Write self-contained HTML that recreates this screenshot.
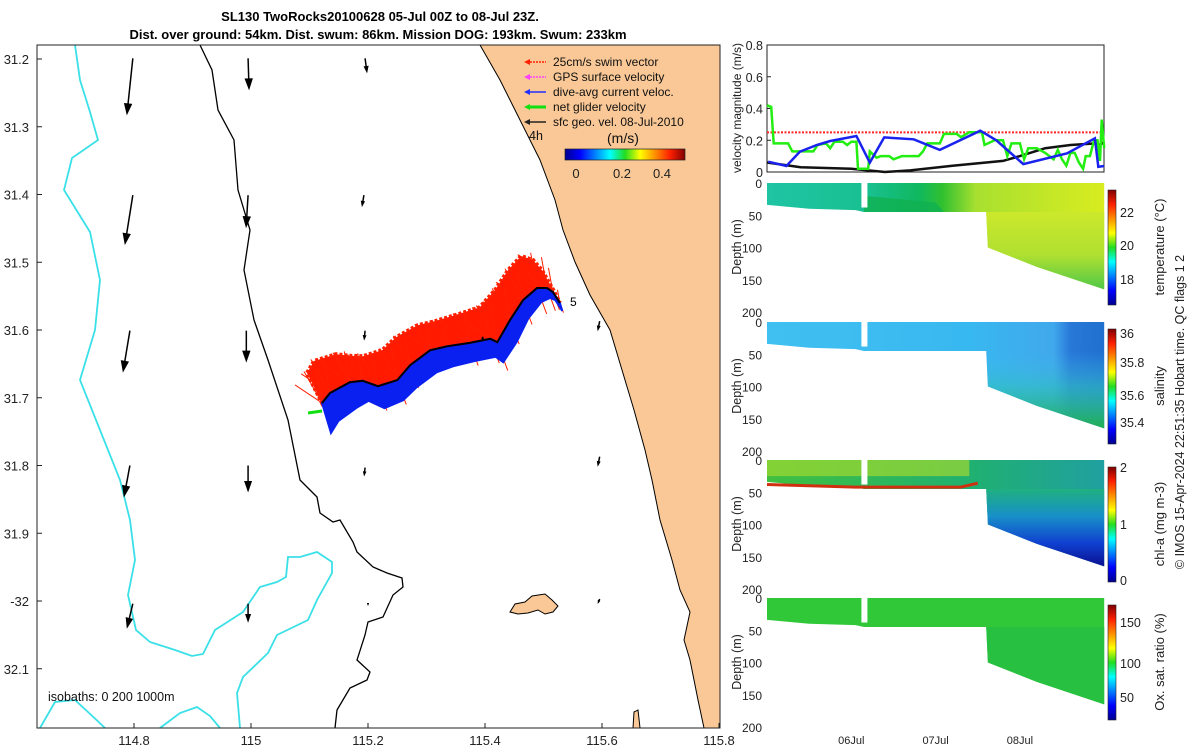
<!DOCTYPE html>
<html><head><meta charset="utf-8"><style>
body{margin:0;background:#fff;}
svg{display:block;font-family:"Liberation Sans",sans-serif;}
</style></head><body>
<svg id="c" width="1200" height="750" viewBox="0 0 1200 750">
<defs>
<linearGradient id="jet" x1="0" y1="0" x2="1" y2="0">
<stop offset="0" stop-color="#00008f"/><stop offset="0.125" stop-color="#0000ff"/><stop offset="0.375" stop-color="#00ffff"/><stop offset="0.5" stop-color="#22dd22"/><stop offset="0.625" stop-color="#ffff00"/><stop offset="0.875" stop-color="#ff2000"/><stop offset="1" stop-color="#800000"/>
</linearGradient>
<linearGradient id="jetv" x1="0" y1="1" x2="0" y2="0">
<stop offset="0" stop-color="#00008f"/><stop offset="0.125" stop-color="#0000ff"/><stop offset="0.375" stop-color="#00ffff"/><stop offset="0.5" stop-color="#22dd22"/><stop offset="0.625" stop-color="#ffff00"/><stop offset="0.875" stop-color="#ff2000"/><stop offset="1" stop-color="#800000"/>
</linearGradient>
<linearGradient id="tempH" x1="0" y1="0" x2="1" y2="0">
<stop offset="0" stop-color="#1fc4a4"/><stop offset="0.3" stop-color="#18c090"/><stop offset="0.45" stop-color="#10b860"/><stop offset="0.52" stop-color="#30c030"/><stop offset="0.62" stop-color="#a8e030"/><stop offset="1" stop-color="#d8ec20"/>
</linearGradient>
<linearGradient id="tempDeep" x1="0" y1="0" x2="0" y2="1">
<stop offset="0" stop-color="#cce82c"/><stop offset="0.55" stop-color="#b0e030"/><stop offset="1" stop-color="#50c848"/>
</linearGradient>
<linearGradient id="salH" x1="0" y1="0" x2="1" y2="0">
<stop offset="0" stop-color="#40c0f0"/><stop offset="0.6" stop-color="#38b8f0"/><stop offset="0.85" stop-color="#40a8ec"/><stop offset="0.9" stop-color="#2878d8"/><stop offset="1" stop-color="#2070d0"/>
</linearGradient>
<linearGradient id="salDeep" x1="0" y1="0" x2="0" y2="1">
<stop offset="0" stop-color="#40b8f0" stop-opacity="0"/><stop offset="0.45" stop-color="#30c0c0" stop-opacity="0.6"/><stop offset="1" stop-color="#20b050"/>
</linearGradient>
<linearGradient id="chlH" x1="0" y1="0" x2="1" y2="0">
<stop offset="0" stop-color="#40c040"/><stop offset="0.6" stop-color="#20b070"/><stop offset="1" stop-color="#20a0a0"/>
</linearGradient>
<linearGradient id="chlDeep" x1="0" y1="0" x2="0" y2="1">
<stop offset="0" stop-color="#20b080"/><stop offset="0.35" stop-color="#1890c8"/><stop offset="0.7" stop-color="#1040d0"/><stop offset="1" stop-color="#0a1090"/>
</linearGradient>
</defs>
<g id="map"></g>
<g id="right"></g>
</svg>
<script>
const NS='http://www.w3.org/2000/svg';
function mk(tag,attrs,parent,text){const e=document.createElementNS(NS,tag);for(const k in attrs)e.setAttribute(k,attrs[k]);if(text!==undefined)e.textContent=text;(parent||svg).appendChild(e);return e;}
const svg=document.getElementById('c');
const mapG=document.getElementById('map');
const rG=document.getElementById('right');

// ---------- data ----------
const lonTicks=[114.8,115,115.2,115.4,115.6,115.8];
const latTicks=[31.2,31.3,31.4,31.5,31.6,31.7,31.8,31.9,32.0,32.1];
const latTickLabels=['31.2','31.3','31.4','31.5','31.6','31.7','31.8','31.9','-32','32.1'];
const trackLon=[115.1214,115.135,115.169,115.191,115.217,115.250,115.272,115.306,115.335,115.374,115.409,115.421,115.443,115.465,115.489,115.506,115.516,115.528];
const trackLat=[31.7077,31.693,31.677,31.675,31.683,31.674,31.652,31.630,31.624,31.619,31.613,31.618,31.585,31.556,31.538,31.538,31.544,31.560];
const redReach=[30,32,28,25,30,30,28,25,25,28,30,35,30,30,32,28,22,12];
const blueReach=[30,28,25,20,22,20,22,22,20,18,18,20,22,18,14,10,8,8];
const arrLon=[114.798,114.798,114.793,114.793,114.798,114.995,114.995,114.992,114.995,114.995,115.195,115.193,115.195,115.195,115.2,115.396,115.596,115.596,115.596];
const arrLat=[31.199,31.401,31.601,31.800,32.004,31.199,31.401,31.601,31.800,32.004,31.199,31.401,31.601,31.803,32.003,31.61,31.587,31.787,31.997];
const arrU=[-0.06,-0.08,-0.07,-0.06,-0.06,0.01,-0.02,0,0,0,0.02,-0.02,-0.01,-0.01,0,0,-0.02,-0.02,-0.02];
const arrV=[-0.57,-0.5,-0.42,-0.32,-0.25,-0.32,-0.33,-0.32,-0.27,-0.19,-0.15,-0.12,-0.1,-0.09,-0.03,-0.05,-0.1,-0.1,-0.05];

const days=[0,1,2,3];
const dayLabels=['','06Jul','07Jul','08Jul'];
const velTicks=[0,0.2,0.4,0.6,0.8];
const greenT=[0,0.05,0.08,0.25,0.3,0.55,0.6,0.7,0.75,0.8,0.9,0.95,1.0,1.06,1.08,1.2,1.22,1.3,1.35,1.45,1.5,1.6,1.8,1.85,1.9,2.05,2.1,2.25,2.3,2.4,2.55,2.58,2.7,2.8,2.85,2.9,3.0,3.05,3.1,3.2,3.3,3.4,3.45,3.5,3.55,3.6,3.65,3.7,3.75,3.78,3.83,3.88,3.92,3.95,3.97,4.0];
const greenV=[0.42,0.41,0.18,0.18,0.13,0.13,0.17,0.18,0.15,0.19,0.19,0.17,0.19,0.19,0.02,0.02,0.13,0.09,0.1,0.1,0.08,0.1,0.1,0.13,0.18,0.18,0.24,0.24,0.22,0.25,0.25,0.17,0.2,0.2,0.1,0.18,0.18,0.08,0.15,0.15,0.12,0.08,0.14,0.08,0.04,0.12,0.12,0.06,0.02,0.1,0.1,0.2,0.2,0.07,0.33,0.15];
const blueT=[0.016,0.23,0.39,0.59,0.75,1.06,1.22,1.39,1.74,2.05,2.53,2.72,3.04,3.56,3.89,3.93,4.0];
const blueV=[0.065,0.038,0.128,0.17,0.195,0.227,0.059,0.218,0.206,0.139,0.26,0.2,0.05,0.118,0.212,0.033,0.038];
const blackT=[0,0.4,1.0,1.4,1.7,2.2,2.8,3.0,3.3,3.6,3.9,3.95,4.0];
const blackV=[0.06,0.03,0.02,0.0,0.01,0.04,0.07,0.1,0.15,0.17,0.18,0.17,0.19];
const swimV=[0.25];

const botT=[0,0.5,1.05,1.15,2.6,2.62,3.2,4.0];
const botD=[34,40,42,45,45,100,130,165];
const depthTicks=[0,50,100,150,200];

// ---------- map ----------
const MX0=37,MX1=720,MY0=45,MY1=728;
const lx=lon=>134+(lon-114.8)*585;
const ly=lat=>59+(lat-31.2)*677.5;
let e;
e=mk('rect',{x:MX0,y:MY0,width:MX1-MX0,height:MY1-MY0,fill:'#fff'},mapG);

e=mk('path',{d:'M480,45 L500,80 L520,120 L540,160 L555,200 L563,230 L575,262 L590,295 L610,330 L622,370 L634,410 L645,450 L652,480 L660,520 L672,560 L680,590 L690,612 L684,640 L690,660 L698,700 L704,728 L720,728 L720,45 Z',fill:'#f9c896',stroke:'#000','stroke-width':1},mapG);

e=mk('path',{d:'M510,612 L515,604 L525,602 L532,596 L545,594 L552,600 L558,606 L553,612 L545,614 L538,610 L528,613 L518,614 Z',fill:'#f9c896',stroke:'#000','stroke-width':1},mapG);

e=mk('path',{d:'M633,728 L634,712 L638,710 L640,728 Z',fill:'#f9c896',stroke:'#000','stroke-width':1},mapG);

e=mk('path',{d:'M200,45 L212,70 L218,110 L234,140 L238,190 L250,230 L244,270 L254,320 L268,360 L288,420 L300,480 L317,497 L320,513 L333,522 L340,520 L353,542 L357,552 L373,567 L387,573 L402,578 L403,587 L393,595 L383,617 L368,622 L365,635 L357,660 L370,672 L367,680 L350,688 L337,710 L335,728',fill:'none',stroke:'#000','stroke-width':1.3},mapG);

e=mk('path',{d:'M75,45 L80,80 L90,112 L98,140 L72,158 L64,190 L90,232 L100,280 L95,330 L80,380 L100,430 L120,480 L130,520 L135,560 L128,595 L136,630 L150,642 L175,650 L192,656 L203,654 L215,630 L243,612 L260,587 L277,582 L286,577 L288,557 L300,557 L317,552 L332,562 L332,573 L317,600 L308,620 L277,635 L268,653 L243,677 L237,693 L240,728',fill:'none',stroke:'#3ae0e8','stroke-width':1.8},mapG);

e=mk('path',{d:'M40,728 L55,702 L75,700 L88,712 L105,728 M160,728 L180,713 L197,707 L210,716 L220,728',fill:'none',stroke:'#3ae0e8','stroke-width':1.8},mapG);

// track bands
let upper=[],lower=[],line=[];
for(let i=0;i<trackLon.length;i++){const x=lx(trackLon[i]),y=ly(trackLat[i]);line.push([x,y]);upper.push([x-redReach[i]*0.5,y-redReach[i]]);lower.push([x+blueReach[i]*0.3,y+blueReach[i]]);}
const P=a=>a.map(p=>p[0].toFixed(1)+','+p[1].toFixed(1)).join(' ');
e=mk('polygon',{points:P(line)+' '+P(upper.slice().reverse()),fill:'#ff1a00',stroke:'#ff2000','stroke-width':4,'stroke-dasharray':'3 2'},mapG);

for(let i=0;i<upper.length;i++){
 const x=line[i][0],y=line[i][1],r=redReach[i];
 [[-0.6,-1.05],[-0.2,-1.1],[-0.9,-0.6],[0.3,0.9]].forEach((d,k)=>{
  e=mk('line',{x1:x,y1:y,x2:x+d[0]*r,y2:y+d[1]*r*(k==3?0.9:1),stroke:'#ff2000','stroke-width':1},mapG);
  });
}
e=mk('polygon',{points:P(line)+' '+P(lower.slice().reverse()),fill:'#0a20f0',stroke:'#0a20f0','stroke-width':2},mapG);

e=mk('polyline',{points:P(line),fill:'none',stroke:'#000','stroke-width':2},mapG);

e=mk('line',{x1:line[0][0]-14,y1:line[0][1]+10,x2:line[0][0],y2:line[0][1]+8,stroke:'#10e010','stroke-width':3},mapG);

e=mk('text',{x:570,y:306,'font-size':12},mapG,'5');

// arrows
for(let i=0;i<arrLon.length;i++){
 const x=lx(arrLon[i]),y=ly(arrLat[i]),dx=arrU[i]*100,dy=-arrV[i]*100;
 const x2=x+dx,y2=y+dy,L=Math.hypot(dx,dy)||1,ux=dx/L,uy=dy/L,h=Math.min(12,L*0.35+2);
 const g=mk('g',{},mapG);
 
 mk('line',{x1:x,y1:y,x2:x2-ux*h*0.6,y2:y2-uy*h*0.6,stroke:'#000','stroke-width':1.5},g);
 mk('polygon',{points:`${x2},${y2} ${x2-ux*h-uy*h*0.35},${y2-uy*h+ux*h*0.35} ${x2-ux*h+uy*h*0.35},${y2-uy*h-ux*h*0.35}`,fill:'#000'},g);
}
e=mk('rect',{x:MX0,y:MY0,width:MX1-MX0,height:MY1-MY0,fill:'none',stroke:'#222','stroke-width':1},mapG);

lonTicks.forEach(v=>{const x=lx(v);mk('line',{x1:x,y1:MY1,x2:x,y2:MY1-5,stroke:'#222'},mapG);
 e=mk('text',{x:x,y:745,'font-size':13,'text-anchor':'middle',fill:'#222'},mapG,String(v));});
latTicks.forEach((v,i)=>{const y=ly(v);mk('line',{x1:MX0,y1:y,x2:MX0+5,y2:y,stroke:'#222'},mapG);
 e=mk('text',{x:29,y:y+5,'font-size':13,'text-anchor':'end',fill:'#222'},mapG,latTickLabels[i]);});
e=mk('text',{x:48,y:701,'font-size':12.5,fill:'#111','xml:space':'preserve'},mapG,'isobaths: 0   200  1000m');

const legItems=[['#ff2000','25cm/s swim vector'],['#ff40ff','GPS surface velocity'],['#2030ff','dive-avg current veloc.'],['#10e010','net glider velocity'],['#222','sfc geo. vel. 08-Jul-2010']];
legItems.forEach((it,i)=>{const y=62+i*15;const g=mk('g',{},mapG);
 
 mk('line',{x1:527,y1:y,x2:546,y2:y,stroke:it[0],'stroke-width':i==3?3:1.5,'stroke-dasharray':i<2?'2 1':''},g);
 mk('polygon',{points:`${524},${y} ${530},${y-3} ${530},${y+3}`,fill:it[0]},g);
 mk('text',{x:553,y:y+4,'font-size':12,fill:'#111'},g,it[1]);});
e=mk('text',{x:529,y:140,'font-size':12.5,fill:'#111'},mapG,'4h');
e=mk('text',{x:607,y:143,'font-size':14,fill:'#111'},mapG,'(m/s)');
e=mk('rect',{x:565,y:149,width:120,height:11,fill:'url(#jet)',stroke:'#222','stroke-width':0.7},mapG);

[['0',576],['0.2',622],['0.4',662]].forEach(t=>{e=mk('text',{x:t[1],y:178,'font-size':13,'text-anchor':'middle',fill:'#222'},mapG,t[0]);});
e=mk('text',{x:380,y:21,'font-size':13,'font-weight':'bold','text-anchor':'middle',fill:'#000'},svg,'SL130 TwoRocks20100628 05-Jul 00Z to 08-Jul 23Z.');

e=mk('text',{x:378,y:39,'font-size':13,'font-weight':'bold','text-anchor':'middle',fill:'#000'},svg,'Dist. over ground: 54km. Dist. swum: 86km. Mission DOG: 193km. Swum: 233km');


// ---------- right panels ----------
const RX0=767,RX1=1104;
const tx=t=>RX0+t*84.3;
const vy=v=>172-v*158.75;
e=mk('rect',{x:RX0,y:45,width:RX1-RX0,height:127,fill:'#fff',stroke:'#222'},rG);

velTicks.forEach(v=>{mk('line',{x1:RX0,y1:vy(v),x2:RX0+4,y2:vy(v),stroke:'#222'},rG);
 e=mk('text',{x:763,y:vy(v)+5,'font-size':12.5,'text-anchor':'end',fill:'#222'},rG,String(v));});
e=mk('line',{x1:RX0,y1:vy(swimV[0]),x2:RX1,y2:vy(swimV[0]),stroke:'#ff2020','stroke-width':2,'stroke-dasharray':'2 1.5'},rG);

const series=(T,V,col,w,name)=>{const el=mk('polyline',{points:T.map((t,i)=>tx(t).toFixed(1)+','+vy(V[i]).toFixed(1)).join(' '),fill:'none',stroke:col,'stroke-width':w},rG);
 };
series(blackT,blackV,'#111',2.5,'surface-geostrophic-series');
series(greenT,greenV,'#22ee11',2.5,'net-glider-velocity-series');
series(blueT,blueV,'#1a22ee',2.5,'dive-avg-current-series');
e=mk('text',{transform:'translate(741,108) rotate(-90)','font-size':12,'text-anchor':'middle',fill:'#222'},rG,'velocity magnitude (m/s)');


const panels=[
 {top:183,name:'temperature',h:'url(#tempH)',deep:'url(#tempDeep)',label:'temperature (°C)',cb:[['18',279],['20',245],['22',212]]},
 {top:322,name:'salinity',h:'url(#salH)',deep:'url(#salDeep)',label:'salinity',cb:[['35.4',422],['35.6',395],['35.8',362],['36',333]]},
 {top:460,name:'chl-a',h:'url(#chlH)',deep:'url(#chlDeep)',label:'chl-a (mg m-3)',cb:[['0',580],['1',524],['2',467]]},
 {top:598,name:'oxygen',h:'#30c838',deep:'#28c040',label:'Ox. sat. ratio (%)',cb:[['50',697],['100',663],['150',622]]}
];
panels.forEach((p,pi)=>{
 const dy=d=>p.top+d*0.645;
 const g=mk('g',{},rG);
 mk('rect',{x:RX0,y:p.top,width:RX1-RX0,height:129,fill:'#fff'},g);
 let pts=[[tx(0),dy(0)],[tx(4),dy(0)]];
 for(let i=botT.length-1;i>=0;i--)pts.push([tx(botT[i]),dy(botD[i])]);
 e=mk('polygon',{points:P(pts),fill:p.h},g);
 let dp=[[tx(2.6),dy(45)],[tx(4),dy(45)]];
 for(let i=botT.length-1;i>=4;i--)dp.push([tx(botT[i]),dy(botD[i])]);
 e=mk('polygon',{points:P(dp),fill:p.deep},g);
 if(pi==0){e=mk('polygon',{points:`${tx(1.15)},${dy(20)} ${tx(2.0)},${dy(30)} ${tx(2.1)},${dy(45)} ${tx(1.15)},${dy(45)}`,fill:'#10b050',opacity:0.8},g);}
 if(pi==2){e=mk('rect',{x:tx(0),y:dy(0),width:tx(2.4)-tx(0),height:dy(25)-dy(0),fill:'#a0d830',opacity:0.7},g);
  e=mk('polyline',{points:`${tx(0)},${dy(38)} ${tx(1.05)},${dy(42)} ${tx(2.3)},${dy(42)} ${tx(2.5)},${dy(36)}`,fill:'none',stroke:'#d03010','stroke-width':3},g);}
 e=mk('rect',{x:tx(1.12),y:dy(0),width:6,height:dy(38)-dy(0),fill:'#fff'},g);
 depthTicks.forEach(d=>{e=mk('text',{x:762,y:dy(d)+5,'font-size':12,'text-anchor':'end',fill:'#222'},g,String(d));});
 e=mk('text',{transform:`translate(741,${p.top+64}) rotate(-90)`,'font-size':12.5,'text-anchor':'middle',fill:'#222'},g,'Depth (m)');
 e=mk('rect',{x:1108,y:p.top+7,width:8,height:115,fill:'url(#jetv)',stroke:'#222','stroke-width':0.6},g);
 p.cb.forEach(c=>{e=mk('text',{x:1120,y:c[1]+5,'font-size':12.5,fill:'#222'},g,c[0]);});
 e=mk('text',{transform:`translate(1164,${p.top+64}) rotate(-90)`,'font-size':13,'text-anchor':'middle',fill:'#222'},g,p.label);
});
days.forEach((d,i)=>{if(!dayLabels[i])return;e=mk('text',{x:tx(d),y:744,'font-size':11,'text-anchor':'middle',fill:'#222'},rG,dayLabels[i]);});
e=mk('text',{transform:'translate(1184,412) rotate(-90)','font-size':12.5,'text-anchor':'middle',fill:'#222','xml:space':'preserve'},rG,'© IMOS 15-Apr-2024 22:51:35 Hobart time. QC flags 1  2');

</script>
</body></html>
